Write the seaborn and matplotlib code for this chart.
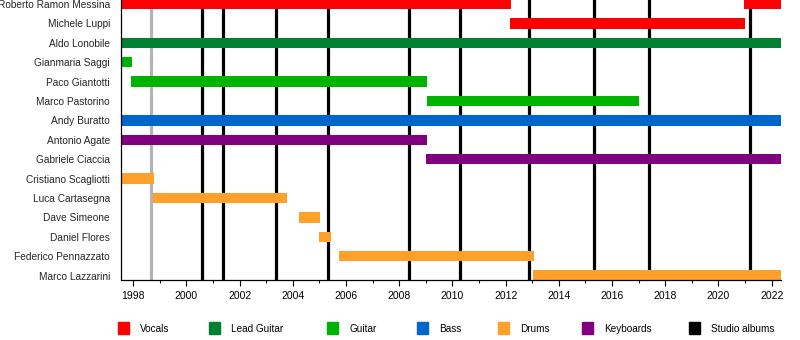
import matplotlib
matplotlib.use("Agg")
import matplotlib.pyplot as plt
from matplotlib.patches import Rectangle
from matplotlib.ticker import MultipleLocator
import seaborn as sns
import pandas as pd

# ---- data -------------------------------------------------------------
members = ["Roberto Ramon Messina", "Michele Luppi", "Aldo Lonobile",
           "Gianmaria Saggi", "Paco Giantotti", "Marco Pastorino",
           "Andy Buratto", "Antonio Agate", "Gabriele Ciaccia",
           "Cristiano Scagliotti", "Luca Cartasegna", "Dave Simeone",
           "Daniel Flores", "Federico Pennazzato", "Marco Lazzarini"]

timeline_start = 1997.54
timeline_end = 2022.35

bar_member = ["Roberto Ramon Messina", "Roberto Ramon Messina", "Michele Luppi",
              "Aldo Lonobile", "Gianmaria Saggi", "Paco Giantotti",
              "Marco Pastorino", "Andy Buratto", "Antonio Agate",
              "Gabriele Ciaccia", "Cristiano Scagliotti", "Luca Cartasegna",
              "Dave Simeone", "Daniel Flores", "Federico Pennazzato",
              "Marco Lazzarini"]
bar_role = ["Vocals", "Vocals", "Vocals", "Lead Guitar", "Guitar", "Guitar",
            "Guitar", "Bass", "Keyboards", "Keyboards", "Drums", "Drums",
            "Drums", "Drums", "Drums", "Drums"]
bar_start = [1997.54, 2020.96, 2012.17, 1997.54, 1997.54, 1997.93,
             2009.03, 1997.54, 1997.54, 2009.02, 1997.54, 1998.73,
             2004.23, 2004.98, 2005.73, 2013.04]
bar_end = [2012.19, 2022.35, 2020.99, 2022.35, 1997.96, 2009.03,
           2017.01, 2022.35, 2009.03, 2022.35, 1998.78, 2003.78,
           2005.02, 2005.43, 2013.05, 2022.35]

album_years = [2000.58, 2001.37, 2003.36, 2005.32, 2008.36,
               2010.28, 2012.88, 2015.32, 2017.39, 2021.18]
other_release_years = [1998.67]

roles = ["Vocals", "Lead Guitar", "Guitar", "Bass", "Drums", "Keyboards"]
role_colors = ["#FF0000", "#008033", "#00B300", "#0066CC", "#FFA02A", "#800080"]
legend_labels = roles + ["Studio albums"]
legend_colors = role_colors + ["#000000"]
year_ticks = list(range(1998, 2023, 2))

# ---- figure -----------------------------------------------------------
sns.set_theme(style="white")
plt.rcParams["font.family"] = ["Liberation Sans", "DejaVu Sans"]

W, H = 800, 340
fig = plt.figure(figsize=(W / 100, H / 100), dpi=100)
ax = fig.add_axes([121 / W, (H - 279.5) / H, (781 - 121) / W, 279.5 / H])

df = pd.DataFrame({"member": bar_member, "role": bar_role,
                   "start": bar_start, "end": bar_end})
df["y"] = df["member"].map({m: i for i, m in enumerate(members)})
cmap = dict(zip(roles, role_colors))

for x in other_release_years:
    ax.axvline(x, color="#B3B3B3", lw=2.3, zorder=1)
for x in album_years:
    ax.axvline(x, color="black", lw=2.3, zorder=1)

ax.barh(df["y"], df["end"] - df["start"], left=df["start"], height=0.54,
        color=[cmap[r] for r in df["role"]], zorder=2, linewidth=0)

ax.set_xlim(timeline_start, timeline_end)
ax.set_ylim(14.2, -0.21)
ax.set_yticks(range(len(members)))
ax.set_yticklabels(members, fontsize=7.3)
ax.tick_params(axis="y", length=0, pad=8)
ax.xaxis.set_minor_locator(MultipleLocator(1))
ax.set_xticks(year_ticks)
ax.set_xticklabels([str(y) for y in year_ticks],
                   family=["Liberation Sans Narrow", "Liberation Sans"], fontsize=7.5)
ax.tick_params(axis="x", which="major", length=4, width=0.8, direction="out",
               colors="black", pad=4, bottom=True)
ax.tick_params(axis="x", which="minor", length=2.5, width=0.8, direction="out",
               colors="black", bottom=True)

sns.despine(ax=ax, top=True, right=True)
for s in ("left", "bottom"):
    ax.spines[s].set_color("black")
    ax.spines[s].set_linewidth(0.9)
    ax.spines[s].set_zorder(3)
ax.set_xlabel("")
ax.set_ylabel("")
ax.grid(False)

# ---- legend -----------------------------------------------------------
square_x = [118, 209, 327, 417, 498, 582, 689]
for sx, lab, col in zip(square_x, legend_labels, legend_colors):
    fig.patches.append(Rectangle((sx / W, (H - 334) / H), 11 / W, 12 / H,
                                 transform=fig.transFigure, color=col,
                                 figure=fig))
    fig.text((sx + 22) / W, (H - 328.5) / H, lab, fontsize=7.2,
             va="center", ha="left", color="black")

fig.savefig("out.png", dpi=100, facecolor="white")
